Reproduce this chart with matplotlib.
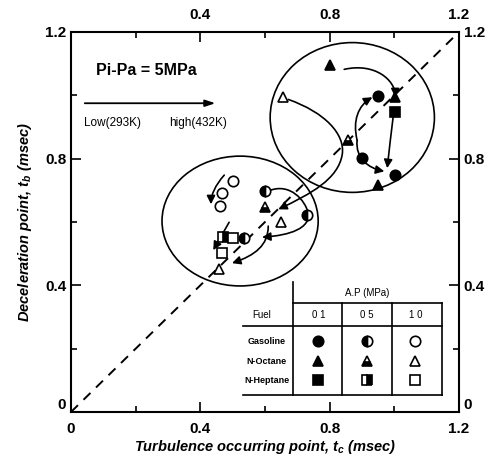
import matplotlib
matplotlib.use('Agg')
import matplotlib.pyplot as plt
from matplotlib.patches import Ellipse, FancyArrowPatch
from matplotlib.path import Path
from matplotlib.ticker import MultipleLocator

plt.rcParams['font.family'] = 'Liberation Sans'
plt.rcParams['font.weight'] = 'bold'
plt.rcParams['mathtext.fontset'] = 'custom'
plt.rcParams['mathtext.it'] = 'Liberation Sans:italic:bold'
plt.rcParams['mathtext.rm'] = 'Liberation Sans:bold'

# Measured points (t_c, t_b) grouped by fuel and ambient pressure
gas_01_x = [0.950, 0.901, 1.003]
gas_01_y = [0.997, 0.801, 0.748]
gas_05_x = [0.601, 0.731, 0.536]
gas_05_y = [0.697, 0.621, 0.549]
gas_10_x = [0.502, 0.467, 0.461]
gas_10_y = [0.729, 0.691, 0.650]

oct_01_x = [0.802, 1.003, 0.950]
oct_01_y = [1.095, 0.994, 0.716]
oct_05_x = [0.858, 0.601]
oct_05_y = [0.858, 0.647]
oct_10_x = [0.656, 0.650, 0.458]
oct_10_y = [0.994, 0.599, 0.451]

hep_01_x = [1.003]
hep_01_y = [0.946]
hep_05_x = [0.471]
hep_05_y = [0.552]
hep_10_x = [0.502, 0.467]
hep_10_y = [0.549, 0.502]

# temperature trend curves (Bezier control points, data units)
curves = [
    [(0.845, 1.082), (0.941, 1.104), (1.003, 1.047), (1.003, 0.994)],
    [(0.885, 0.858), (0.870, 0.921), (0.889, 0.968), (0.932, 0.994)],
    [(0.885, 0.858), (0.879, 0.801), (0.920, 0.770), (0.969, 0.760)],
    [(0.997, 0.937), (0.990, 0.880), (0.984, 0.825), (0.978, 0.770)],
    [(0.672, 0.987), (0.786, 0.946), (0.848, 0.877), (0.839, 0.814),
     (0.827, 0.735), (0.740, 0.688), (0.641, 0.640)],
    [(0.474, 0.748), (0.446, 0.716), (0.433, 0.685), (0.433, 0.656)],
    [(0.616, 0.700), (0.678, 0.723), (0.724, 0.669), (0.734, 0.628),
     (0.740, 0.580), (0.678, 0.558), (0.591, 0.552)],
    [(0.610, 0.587), (0.610, 0.527), (0.570, 0.495), (0.498, 0.470)],
    [(0.489, 0.599), (0.473, 0.570), (0.456, 0.540), (0.440, 0.511)],
]

# grouping circles: centre x, centre y, width, height
groups = [(0.870, 0.930, 0.508, 0.473), (0.523, 0.603, 0.483, 0.410)]

fig = plt.figure(figsize=(4.91, 4.57), dpi=100)
ax = fig.add_axes([0.1446, 0.0985, 0.7902, 0.8315])
ax.set_xlim(0, 1.2)
ax.set_ylim(0, 1.2)

ax.plot([0, 1.2], [0, 1.2], color='black', lw=1.4, dashes=(5, 4))

for cx, cy, w, h in groups:
    ax.add_patch(Ellipse((cx, cy), w, h, fill=False, ec='black', lw=1.2))

for pts in curves:
    codes = [Path.MOVETO] + [Path.CURVE4] * (len(pts) - 1)
    arr = FancyArrowPatch(path=Path(pts, codes), arrowstyle='-|>,head_length=5,head_width=2.5',
                          color='black', lw=1.2)
    ax.add_patch(arr)

kw = dict(ls='none', color='black', mec='black', mew=1.2, ms=7.5)
ax.plot(gas_01_x, gas_01_y, marker='o', **kw)
ax.plot(gas_05_x, gas_05_y, marker='o', fillstyle='left', markerfacecoloralt='white', **kw)
ax.plot(gas_10_x, gas_10_y, marker='o', mfc='white', **kw)
ax.plot(oct_01_x, oct_01_y, marker='^', **kw)
ax.plot(oct_05_x, oct_05_y, marker='^', fillstyle='bottom', markerfacecoloralt='white', **kw)
ax.plot(oct_10_x, oct_10_y, marker='^', mfc='white', **kw)
ax.plot(hep_01_x, hep_01_y, marker='s', **kw)
ax.plot(hep_05_x, hep_05_y, marker='s', fillstyle='right', markerfacecoloralt='white', **kw)
ax.plot(hep_10_x, hep_10_y, marker='s', mfc='white', **kw)

# annotations
ax.text(0.077, 1.079, 'Pi-Pa = 5MPa', fontsize=11.5, fontweight='bold', va='center')
ax.annotate('', xy=(0.455, 0.975), xytext=(0.034, 0.975),
            arrowprops=dict(arrowstyle='-|>,head_length=0.6,head_width=0.2', color='black', lw=1.3))
ax.text(0.04, 0.912, 'Low(293K)', fontsize=8.5, fontweight='normal', va='center')
ax.text(0.305, 0.912, 'high(432K)', fontsize=8.5, fontweight='normal', va='center')

# inset table of marker meaning
line_kw = dict(color='black', lw=1.2)
ax.plot([0.687, 0.687], [0.054, 0.410], **line_kw)
ax.plot([0.687, 1.149], [0.344, 0.344], **line_kw)
ax.plot([0.532, 1.149], [0.271, 0.271], **line_kw)
ax.plot([0.532, 1.149], [0.054, 0.054], **line_kw)
for xv in [0.839, 0.994, 1.149]:
    ax.plot([xv, xv], [0.054, 0.344], **line_kw)

fuels = ['Gasoline', 'N-Octane', 'N-Heptane']
pressures = ['0 1', '0 5', '1 0']
row_y = [0.224, 0.161, 0.101]
col_x = [0.765, 0.916, 1.065]
ax.text(0.916, 0.375, 'A.P (MPa)', fontsize=7, fontweight='normal', ha='center', va='center')
ax.text(0.591, 0.306, 'Fuel', fontsize=7, fontweight='normal', ha='center', va='center')
for xv, p in zip(col_x, pressures):
    ax.text(xv, 0.306, p, fontsize=7, fontweight='normal', ha='center', va='center')
for yv, f in zip(row_y, fuels):
    ax.text(0.605, yv, f, fontsize=6.5, fontweight='bold', ha='center', va='center')

marks = ['o', '^', 's']
alts = ['left', 'bottom', 'right']
for yv, m, alt in zip(row_y, marks, alts):
    ax.plot(col_x[0], yv, marker=m, **kw)
    ax.plot(col_x[1], yv, marker=m, fillstyle=alt, markerfacecoloralt='white', **kw)
    ax.plot(col_x[2], yv, marker=m, mfc='white', **kw)

# ticks on every side
ax.xaxis.set_minor_locator(MultipleLocator(0.2))
ax.yaxis.set_minor_locator(MultipleLocator(0.2))
ax.tick_params(which='both', direction='in', top=True, right=True,
               labeltop=True, labelright=True, labelsize=11, width=1.2)
ax.tick_params(which='major', length=7)
ax.tick_params(which='minor', length=4)
ax.tick_params(axis='x', which='major', pad=7)
ax.tick_params(axis='x', which='major', labeltop=True)
ticks = [0, 0.4, 0.8, 1.2]
labels = ['0', '0.4', '0.8', '1.2']
ax.set_xticks(ticks, labels)
ax.set_yticks(ticks, labels)
for lab in ax.get_xticklabels() + ax.get_yticklabels():
    lab.set_fontweight('bold')
# top edge has no "0", and the y "0" sits just above the bottom spine
ax.xaxis.get_major_ticks()[0].label2.set_visible(False)
for tk in ax.xaxis.get_major_ticks():
    tk.label2.set_y(1.0)
ytick0 = ax.yaxis.get_major_ticks()[0]
ytick0.label1.set_va('bottom')
ytick0.label2.set_va('bottom')
for s in ax.spines.values():
    s.set_linewidth(1.5)

ax.set_xlabel('Turbulence occurring point, $t_c$ (msec)', fontsize=10.5,
              fontweight='bold', fontstyle='italic', labelpad=2)
ax.set_ylabel('Deceleration point, $t_b$ (msec)', fontsize=10.5,
              fontweight='bold', fontstyle='italic', labelpad=8)

fig.savefig('out.png', dpi=100)
